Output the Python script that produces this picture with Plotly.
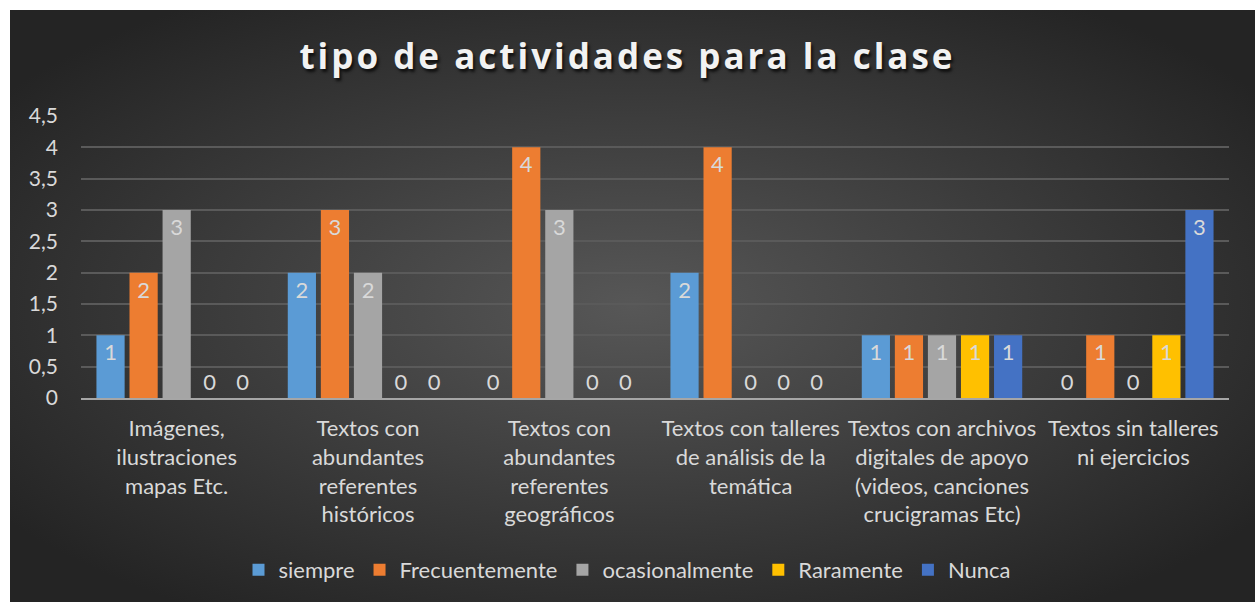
import base64
import plotly.graph_objects as go

# ---- data ----
categories = [
    "Imágenes,<br>ilustraciones<br>mapas Etc.",
    "Textos con<br>abundantes<br>referentes<br>históricos",
    "Textos con<br>abundantes<br>referentes<br>geográficos",
    "Textos con talleres<br>de análisis de la<br>temática",
    "Textos con archivos<br>digitales de apoyo<br>(videos, canciones<br>crucigramas Etc)",
    "Textos sin talleres<br>ni ejercicios",
]
series_names = ["siempre", "Frecuentemente", "ocasionalmente", "Raramente", "Nunca"]
siempre = [1, 2, 0, 2, 1, 0]
frecuentemente = [2, 3, 4, 4, 1, 1]
ocasionalmente = [3, 2, 3, 0, 1, 0]
raramente = [0, 0, 0, 0, 1, 1]
nunca = [0, 0, 0, 0, 1, 3]
y_ticks = [0, 0.5, 1, 1.5, 2, 2.5, 3, 3.5, 4, 4.5]

series_values = [siempre, frecuentemente, ocasionalmente, raramente, nunca]
colors = ["#5B9BD5", "#ED7D31", "#A5A5A5", "#FFC000", "#4472C4"]

# ---- layout constants ----
W, H = 1255, 602
ML, MR, MT, MB = 81, 26, 116, 204
FONT = "Lato"
TXT = "#d9d9d9"

fig = go.Figure()
for name, vals, col in zip(series_names, series_values, colors):
    fig.add_trace(go.Bar(
        name=name,
        x=categories,
        y=vals,
        marker=dict(color=col, line=dict(width=0)),
        text=[str(v) for v in vals],
        textposition=["inside" if v > 0 else "outside" for v in vals],
        insidetextanchor="end",
        textfont=dict(family=FONT, size=22, color=TXT),
        cliponaxis=False,
        hoverinfo="skip",
    ))

# background radial gradient (decoration)
svg = (
    "<svg xmlns='http://www.w3.org/2000/svg' width='1245' height='592' "
    "preserveAspectRatio='none' viewBox='0 0 1245 592'>"
    "<defs><radialGradient id='g' cx='50%' cy='50%' r='62%'>"
    "<stop offset='0' stop-color='#575757'/>"
    "<stop offset='1' stop-color='#242424'/>"
    "</radialGradient></defs>"
    "<rect width='1245' height='592' fill='url(#g)'/></svg>"
)
src = "data:image/svg+xml;base64," + base64.b64encode(svg.encode()).decode()
pw, ph = W - ML - MR, H - MT - MB
bx0, by0 = 10, 10
fig.add_layout_image(dict(
    source=src, xref="paper", yref="paper",
    x=(bx0 - ML) / pw, y=(H - MB - by0) / ph,
    sizex=(W - bx0) / pw, sizey=(H - by0) / ph,
    xanchor="left", yanchor="top", sizing="stretch", layer="below",
))

fig.update_layout(
    width=W, height=H,
    margin=dict(l=ML, r=MR, t=MT, b=MB, pad=0),
    paper_bgcolor="white",
    plot_bgcolor="rgba(0,0,0,0)",
    separators=", ",
    barmode="group",
    bargap=0.136,
    bargroupgap=0.147,
    title=dict(
        text="tipo de actividades para la clase",
        x=0.5, xref="container", xanchor="center",
        y=1 - 57 / H, yref="container", yanchor="middle",
        font=dict(family="Open Sans", size=35, color="#f2f2f2", weight=700,
                  shadow="2px 3px 3px rgba(0,0,0,0.7)"),
    ),
    font=dict(family=FONT, size=22, color=TXT),
    legend=dict(
        orientation="h", x=0.5, xref="container", xanchor="center",
        y=1 - 570 / H, yref="container", yanchor="middle",
        font=dict(family=FONT, size=22, color=TXT),
        bgcolor="rgba(0,0,0,0)", itemsizing="constant",
        traceorder="normal",
    ),
    showlegend=True,
    xaxis=dict(
        showgrid=False, showline=True, linecolor="#a6a6a6", linewidth=2,
        tickfont=dict(family=FONT, size=22, color=TXT),
        ticks="", ticklabelstandoff=10, zeroline=False,
    ),
    yaxis=dict(
        range=[0, 4.5], tickvals=y_ticks, showgrid=True,
        gridcolor="#5a5a5a", gridwidth=1.5, zeroline=False, showline=False,
        tickfont=dict(family=FONT, size=21, color=TXT),
        ticks="", ticklabelstandoff=22,
    ),
)

post = (
    "document.body.style.margin='0';"
    "document.body.style.overflow='hidden';"
    "document.querySelectorAll('.gtitle').forEach(function(t){t.style.letterSpacing='3px';});"
)
fig.write_html("out.html", config={"displayModeBar": False}, post_script=post)
